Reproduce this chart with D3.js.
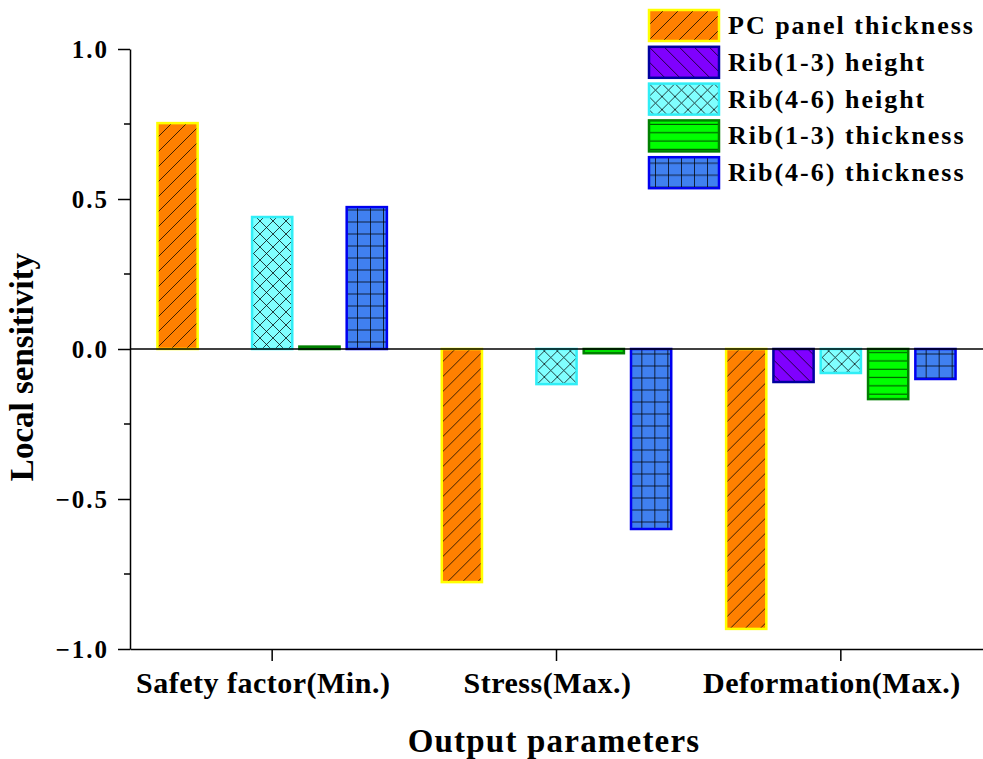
<!DOCTYPE html>
<html>
<head>
<meta charset="utf-8">
<script src="https://cdn.jsdelivr.net/npm/d3@7"></script>
<style>
  html, body { margin: 0; padding: 0; background: #fff; }
  svg { display: block; }
  text { font-family: "Liberation Serif", "Times New Roman", serif; font-weight: bold; fill: #000; }
</style>
</head>
<body>
<svg id="chart" width="983" height="759"></svg>
<script>
// Output parameters (x categories)
const categories = ["Safety factor(Min.)", "Stress(Max.)", "Deformation(Max.)"];
// Input parameters (bar series)
const seriesNames = ["PC panel thickness", "Rib(1-3) height", "Rib(4-6) height", "Rib(1-3) thickness", "Rib(4-6) thickness"];
// Local sensitivity of each output to each input, one array per series
const pcPanelThickness = [0.753, -0.777, -0.933];
const rib13Height      = [0.0, 0.0, -0.11];
const rib46Height      = [0.44, -0.117, -0.08];
const rib13Thickness   = [0.008, -0.014, -0.167];
const rib46Thickness   = [0.473, -0.6, -0.1];
const seriesValues = [pcPanelThickness, rib13Height, rib46Height, rib13Thickness, rib46Thickness];
// Axis ticks
const yTicks = [-1.0, -0.5, 0.0, 0.5, 1.0];
const yMinorTicks = [-0.75, -0.25, 0.25, 0.75];

// Visual style per series: fill, border, hatch kind
const styles = [
  { fill: "#FF8000", stroke: "#FFFF00", hatch: "slash" },
  { fill: "#8000FF", stroke: "#0000A0", hatch: "backslash" },
  { fill: "#80FFFF", stroke: "#30EEF6", hatch: "cross" },
  { fill: "#00FF00", stroke: "#008000", hatch: "hlines" },
  { fill: "#4080F0", stroke: "#0000F0", hatch: "grid" }
];

const svg = d3.select("#chart");
const plotLeft = 130, plotRight = 983, plotTop = 49, plotBottom = 649;

const x0 = d3.scaleBand().domain(categories).range([plotLeft, plotRight]).padding(0);
const x1 = d3.scaleBand().domain(d3.range(seriesNames.length))
  .range([0, x0.bandwidth()]).paddingInner(0.15).paddingOuter(0.58);
const y = d3.scaleLinear().domain([-1, 1]).range([plotBottom, plotTop]);

// Hatch patterns
const defs = svg.append("defs");
styles.forEach((s, i) => {
  let w, h, d;
  if (s.hatch === "slash") { w = 15; h = 15; d = "M0,15 L15,0 M-4,4 L4,-4 M11,19 L19,11"; }
  else if (s.hatch === "backslash") { w = 15; h = 15; d = "M0,0 L15,15 M-4,11 L4,19 M11,-4 L19,4"; }
  else if (s.hatch === "cross") { w = 13; h = 13; d = "M0,0 L13,13 M13,0 L0,13"; }
  else if (s.hatch === "hlines") { w = 8; h = 8.3; d = "M0,4 L8,4"; }
  else { w = 13; h = 12; d = "M0,6 L13,6 M6.5,0 L6.5,12"; }
  const p = defs.append("pattern").attr("id", "pat" + i)
    .attr("patternUnits", "userSpaceOnUse").attr("width", w).attr("height", h);
  p.append("rect").attr("width", w).attr("height", h).attr("fill", s.fill);
  p.append("path").attr("d", d).attr("stroke", "#000").attr("stroke-opacity", 0.75)
    .attr("stroke-width", 1).attr("fill", "none");
});

// Bars
const groups = svg.append("g").selectAll("g").data(categories).join("g")
  .attr("transform", c => `translate(${x0(c)},0)`);
groups.selectAll("rect")
  .data((c, ci) => seriesValues.map((vals, si) => ({ si, v: vals[ci] })).filter(d => d.v !== 0))
  .join("rect")
  .attr("x", d => x1(d.si))
  .attr("width", x1.bandwidth())
  .attr("y", d => y(Math.max(0, d.v)))
  .attr("height", d => Math.abs(y(d.v) - y(0)))
  .attr("fill", d => `url(#pat${d.si})`)
  .attr("stroke", d => styles[d.si].stroke)
  .attr("stroke-width", 2.5);

// Zero line
svg.append("line").attr("x1", plotLeft).attr("x2", plotRight).attr("y1", y(0)).attr("y2", y(0))
  .attr("stroke", "#000").attr("stroke-width", 1.5);

// Y axis
const yAxis = svg.append("g").attr("transform", `translate(${plotLeft},0)`)
  .call(d3.axisLeft(y).tickValues(yTicks).tickSize(12).tickSizeOuter(0).tickFormat(d3.format(".1f")));
yAxis.select(".domain").attr("stroke-width", 1.5);
yAxis.selectAll(".tick line").attr("stroke-width", 1.5);
yAxis.selectAll(".tick text").attr("font-size", 25).attr("letter-spacing", "2px")
  .attr("x", -21).attr("dy", "0.33em").style("font-family", "'Liberation Serif', serif").style("font-weight", "bold");
yAxis.append("g").selectAll("line").data(yMinorTicks).join("line")
  .attr("x1", -6).attr("x2", 0).attr("y1", d => y(d)).attr("y2", d => y(d))
  .attr("stroke", "#000").attr("stroke-width", 1.5);

// X axis
const xAxis = svg.append("g").attr("transform", `translate(0,${plotBottom})`)
  .call(d3.axisBottom(x0).tickSize(12).tickSizeOuter(0));
xAxis.select(".domain").attr("stroke-width", 1.5);
xAxis.selectAll(".tick line").attr("stroke-width", 1.5);
xAxis.selectAll(".tick text").attr("font-size", 30).attr("letter-spacing", "0.5px").attr("x", -9).attr("y", 44).attr("dy", 0)
  .style("font-family", "'Liberation Serif', serif").style("font-weight", "bold");

// Axis titles
svg.append("text").attr("x", 554).attr("y", 752).attr("text-anchor", "middle")
  .attr("font-size", 33).attr("letter-spacing", "1.2px").text("Output parameters");
svg.append("text").attr("transform", "translate(33,367) rotate(-90)").attr("text-anchor", "middle")
  .attr("font-size", 33).text("Local sensitivity");

// Legend
const legend = svg.append("g").selectAll("g").data(seriesNames).join("g")
  .attr("transform", (d, i) => `translate(649,${10 + i * 36.8})`);
legend.append("rect").attr("width", 70).attr("height", 31)
  .attr("fill", (d, i) => `url(#pat${i})`)
  .attr("stroke", (d, i) => styles[i].stroke).attr("stroke-width", 2.5);
legend.append("text").attr("x", 79).attr("y", 24).attr("font-size", 26)
  .attr("letter-spacing", "2px").text(d => d);
</script>
</body>
</html>
